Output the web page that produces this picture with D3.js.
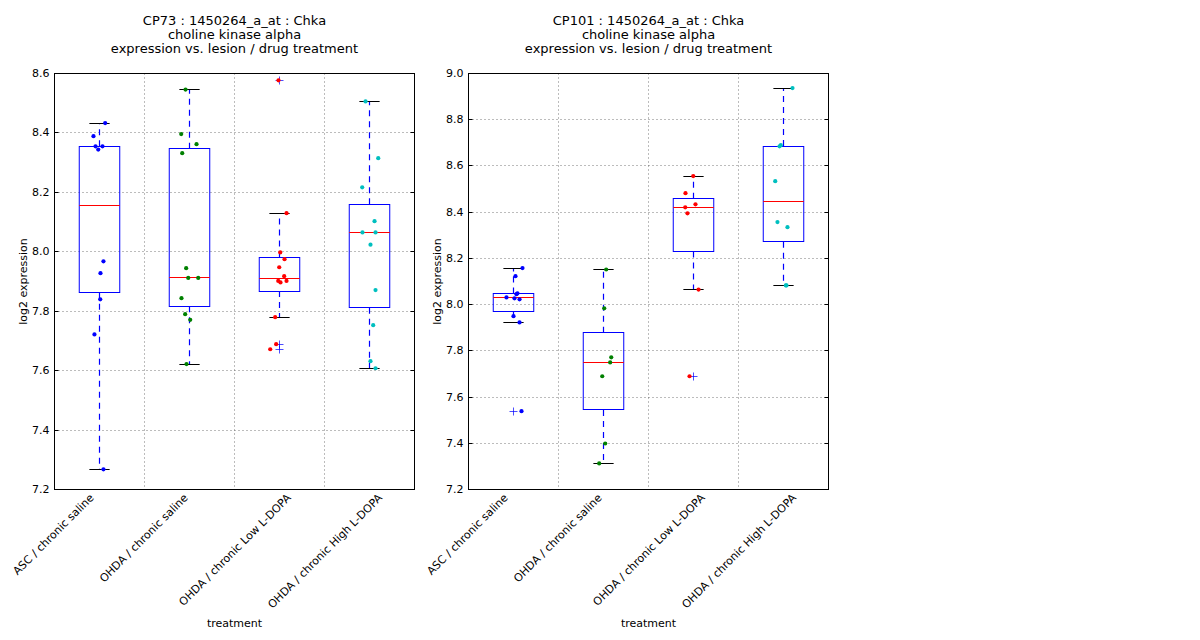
<!DOCTYPE html>
<html>
<head>
<meta charset="utf-8">
<script src="https://cdn.jsdelivr.net/npm/d3@7"></script>
<style>
  body { margin: 0; background: #fff; }
  text { font-family: "DejaVu Sans", sans-serif; fill: #000; }
</style>
</head>
<body>
<svg id="chart" width="1200" height="640"></svg>
<script>
// ---- data ----
var categories = [
  'ASC / chronic saline',
  'OHDA / chronic saline',
  'OHDA / chronic Low L-DOPA',
  'OHDA / chronic High L-DOPA'
];
var groupColors = ['#0000ff', '#008000', '#ff0000', '#00bfbf'];

var cp73Title = ['CP73 : 1450264_a_at : Chka', 'choline kinase alpha', 'expression vs. lesion / drug treatment'];
var cp73Values = [
  [8.433, 8.389, 8.355, 8.355, 8.344, 7.968, 7.928, 7.840, 7.722, 7.268],
  [8.546, 8.396, 8.362, 8.332, 7.945, 7.912, 7.912, 7.844, 7.790, 7.771, 7.622],
  [8.577, 8.130, 7.998, 7.975, 7.948, 7.918, 7.902, 7.897, 7.902, 7.780, 7.689, 7.672],
  [8.506, 8.315, 8.217, 8.103, 8.065, 8.065, 8.024, 7.871, 7.753, 7.632, 7.608]
];
// horizontal jitter of each point, in category units
var cp73Jitter = [
  [0.063, -0.067, -0.044, 0.033, -0.014, 0.044, 0.011, 0.008, -0.056, 0.044],
  [-0.044, -0.092, 0.078, -0.081, -0.037, -0.014, 0.097, -0.089, -0.048, 0.008, -0.033],
  [-0.011, 0.078, 0.008, 0.056, -0.003, 0.052, -0.014, 0.011, 0.078, -0.048, -0.037, -0.103],
  [-0.044, 0.097, -0.081, 0.056, -0.078, 0.067, 0.011, 0.067, 0.041, 0.011, 0.067]
];
var cp73Ticks = [7.2, 7.4, 7.6, 7.8, 8.0, 8.2, 8.4, 8.6];

var cp101Title = ['CP101 : 1450264_a_at : Chka', 'choline kinase alpha', 'expression vs. lesion / drug treatment'];
var cp101Values = [
  [8.158, 8.123, 8.049, 8.045, 8.031, 8.027, 8.023, 7.950, 7.923, 7.539],
  [8.152, 7.984, 7.772, 7.750, 7.690, 7.399, 7.313],
  [8.556, 8.482, 8.434, 8.421, 8.395, 8.065, 7.690],
  [8.937, 8.690, 8.685, 8.534, 8.357, 8.335, 8.083, 8.083]
];
var cp101Jitter = [
  [0.1, 0.022, 0.044, 0.033, -0.078, 0.011, 0.067, 0, 0.067, 0.089],
  [0.03, 0.008, 0.086, 0.074, -0.014, 0.019, -0.048],
  [-0.003, -0.089, 0.022, -0.092, -0.067, 0.056, -0.044],
  [0.1, -0.03, -0.044, -0.092, -0.067, 0.044, 0.026, 0.033]
];
var cp101Ticks = [7.2, 7.4, 7.6, 7.8, 8.0, 8.2, 8.4, 8.6, 8.8, 9.0];

var svg = d3.select('#chart');

// matplotlib style box stats: linear quantiles, 1.5 IQR whiskers
var boxStats = function boxStats(vals) {
  var s = vals.slice().sort(d3.ascending);
  var q1 = d3.quantile(s, 0.25), med = d3.quantile(s, 0.5), q3 = d3.quantile(s, 0.75);
  var iqr = q3 - q1;
  var inside = s.filter(function(v) { return v >= q1 - 1.5 * iqr && v <= q3 + 1.5 * iqr; });
  return {
    q1: q1, med: med, q3: q3,
    lo: d3.min(inside), hi: d3.max(inside),
    out: s.filter(function(v) { return v < q1 - 1.5 * iqr || v > q3 + 1.5 * iqr; })
  };
};

var drawPanel = function drawPanel(left, title, values, jitter, ticks) {
  var top = 73, width = 360, height = 416;
  // half pixel offset keeps 1px lines sharp
  var g = svg.append('g').attr('transform', 'translate(' + (left + 0.5) + ',' + (top + 0.5) + ')');

  var x = d3.scaleLinear().domain([0.5, categories.length + 0.5]).range([0, width]);
  var y = d3.scaleLinear().domain(d3.extent(ticks)).range([height, 0]);
  var boxW = x(1.225) - x(1), capW = x(1.1125) - x(1);
  var ry = function(v) { return Math.round(y(v)); };

  // grid
  g.append('g').selectAll('line').data(ticks.slice(1, -1)).enter().append('line')
    .attr('x1', 0).attr('x2', width)
    .attr('y1', ry).attr('y2', ry)
    .attr('stroke', '#555').attr('stroke-width', 0.8).attr('stroke-dasharray', '1,3');
  g.append('g').selectAll('line').data(d3.range(1.5, categories.length, 1)).enter().append('line')
    .attr('x1', function(d) { return x(d); }).attr('x2', function(d) { return x(d); })
    .attr('y1', 0).attr('y2', height)
    .attr('stroke', '#555').attr('stroke-width', 0.8).attr('stroke-dasharray', '1,3');

  // y axis, ticks inside on both sides
  var yAxis = d3.axisLeft(y).tickValues(ticks).tickFormat(d3.format('.1f')).tickSizeInner(-4).tickSizeOuter(0).tickPadding(5);
  var ya = g.append('g').call(yAxis);
  ya.select('.domain').remove();
  ya.selectAll('.tick').attr('transform', function(d) { return 'translate(0,' + ry(d) + ')'; });
  ya.selectAll('text').style('font-size', '11px').style('font-family', '"DejaVu Sans", sans-serif');
  var yr = g.append('g').attr('transform', 'translate(' + width + ',0)')
    .call(d3.axisRight(y).tickValues(ticks).tickFormat('').tickSizeInner(-4).tickSizeOuter(0));
  yr.select('.domain').remove();
  yr.selectAll('.tick').attr('transform', function(d) { return 'translate(0,' + ry(d) + ')'; });

  // boxes
  var stats = values.map(boxStats);
  var boxes = g.append('g').selectAll('g').data(stats).enter().append('g')
    .attr('transform', function(d, i) { return 'translate(' + x(i + 1) + ',0)'; });
  boxes.append('line').attr('class', 'whisker').attr('x1', 0).attr('x2', 0)
    .attr('y1', function(d) { return y(d.q3); }).attr('y2', function(d) { return y(d.hi); });
  boxes.append('line').attr('class', 'whisker').attr('x1', 0).attr('x2', 0)
    .attr('y1', function(d) { return y(d.q1); }).attr('y2', function(d) { return y(d.lo); });
  boxes.selectAll('line.whisker')
    .attr('stroke', '#0000ff').attr('stroke-width', 1.2).attr('stroke-dasharray', '6,5');
  boxes.append('rect')
    .attr('x', -boxW).attr('width', 2 * boxW)
    .attr('y', function(d) { return ry(d.q3); })
    .attr('height', function(d) { return ry(d.q1) - ry(d.q3); })
    .attr('fill', 'none').attr('stroke', '#0000ff');
  boxes.append('line').attr('x1', -boxW).attr('x2', boxW)
    .attr('y1', function(d) { return ry(d.med); }).attr('y2', function(d) { return ry(d.med); })
    .attr('stroke', '#ff0000');
  ['hi', 'lo'].forEach(function(k) {
    boxes.append('line').attr('x1', -capW).attr('x2', capW)
      .attr('y1', function(d) { return ry(d[k]); }).attr('y2', function(d) { return ry(d[k]); })
      .attr('stroke', '#000');
  });
  boxes.each(function(d) {
    d3.select(this).selectAll('path.flier').data(d.out).enter().append('path')
      .attr('class', 'flier')
      .attr('d', function(v) { var c = ry(v); return 'M-4,' + c + 'H4M0,' + (c - 4) + 'V' + (c + 4); })
      .attr('stroke', '#0000ff').attr('stroke-width', 0.7);
  });

  // jittered points
  values.forEach(function(vals, i) {
    g.append('g').selectAll('circle').data(vals).enter().append('circle')
      .attr('cx', function(v, j) { return x(i + 1 + jitter[i][j]); })
      .attr('cy', function(v) { return y(v); })
      .attr('r', 2.1)
      .attr('fill', groupColors[i]);
  });

  // frame
  g.append('rect').attr('width', width).attr('height', height)
    .attr('fill', 'none').attr('stroke', '#000').attr('stroke-width', 1);

  // category labels, rotated; end point shifted the way the reference lays them out
  g.append('g').selectAll('text').data(categories).enter().append('text')
    .attr('text-anchor', 'end')
    .style('font-size', '11px')
    .text(function(d) { return d; })
    .attr('transform', function(d, i) {
      var len = this.getComputedTextLength();
      var ex = x(i + 1) - 5 + 0.39 * (len - 109);
      return 'translate(' + ex + ',' + (height + 9) + ') rotate(-45)';
    });

  g.append('text').attr('x', width / 2).attr('y', 553).attr('text-anchor', 'middle')
    .style('font-size', '11px').text('treatment');
  g.append('text').attr('transform', 'translate(-28,' + (height / 2) + ') rotate(-90)')
    .attr('text-anchor', 'middle').style('font-size', '11px').text('log2 expression');

  g.append('g').selectAll('text').data(title).enter().append('text')
    .attr('x', width / 2).attr('y', function(d, i) { return -49 + i * 14.3; })
    .attr('text-anchor', 'middle').style('font-size', '13px')
    .text(function(d) { return d; });
};

drawPanel(54, cp73Title, cp73Values, cp73Jitter, cp73Ticks);
drawPanel(468, cp101Title, cp101Values, cp101Jitter, cp101Ticks);
</script>
</body>
</html>
